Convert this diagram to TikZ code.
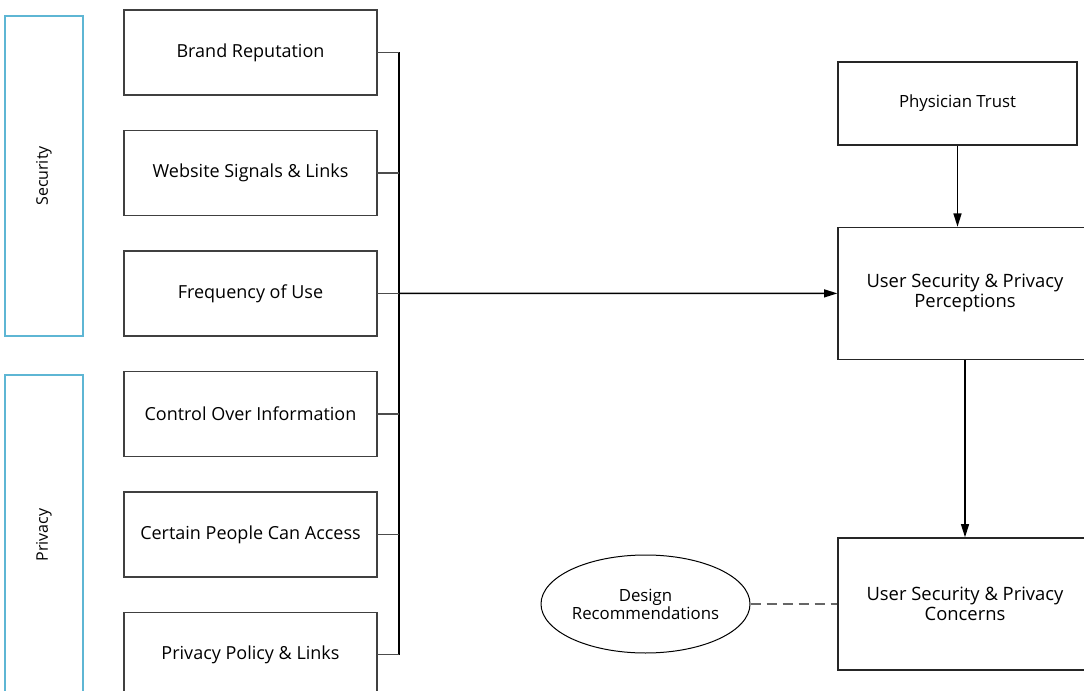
\documentclass[tikz,border=0pt]{standalone}
\usepackage{fontspec}
\setmainfont{Open Sans}
\usetikzlibrary{arrows.meta,positioning,shapes.geometric}
\definecolor{groupcyan}{RGB}{94,182,212}

\tikzset{
  factor/.style={draw=black!75, line width=1pt, inner sep=0pt, outer sep=0pt,
    minimum width=189.75pt, minimum height=63.75pt,
    font=\fontsize{13.5}{15}\selectfont},
  outcome/.style={draw=black!85, line width=1pt, inner sep=0pt, align=center,
    minimum width=190.5pt, minimum height=99pt,
    font=\fontsize{13.8}{15}\selectfont},
  group/.style={draw=groupcyan, line width=0.9pt, rotate=90, inner sep=0pt,
    minimum width=240pt, minimum height=58.5pt,
    font=\fontsize{12}{14}\selectfont},
  stub/.style={draw=black!70, line width=0.9pt},
  bus/.style={draw=black, line width=1.1pt},
  flow/.style={-{Triangle[length=10pt,width=6pt]}, line width=1.1pt}
}

\begin{document}
\begin{tikzpicture}[x=0.75pt,y=-0.75pt,node distance=26.6pt]
    \useasboundingbox (0,0) rectangle (1084,691);

    % groups
    \node[group] (secgrp) at (44,176) {Security};
    \node[group] (privgrp) at (44,535) {Privacy};

    % factors
    \node[factor] (brand) at (250.5,52.5) {Brand Reputation};
    \node[factor] (web) [below=of brand] {Website Signals \& Links};
    \node[factor] (freq) [below=of web] {Frequency of Use};
    \node[factor] (ctrl) [below=of freq] {Control Over Information};
    \node[factor] (people) [below=of ctrl] {Certain People Can Access};
    \node[factor] (policy) [below=of people] {Privacy Policy \& Links};

    % right side
    \node[outcome, minimum width=179.25pt, minimum height=62.25pt,
          font=\fontsize{12.6}{15}\selectfont] (trust) at (957.5,103.5) {Physician Trust};
    \node[outcome] (percep) at (965,293.4) {User Security \& Privacy\\Perceptions};
    \node[outcome] (concern) at (965,604) {User Security \& Privacy\\Concerns};
    \node[ellipse, draw=black, line width=0.75pt, inner sep=0pt,
          minimum width=156.75pt, minimum height=73.5pt, align=center,
          font=\fontsize{12.6}{13.5}\selectfont] (design) at (645.5,604) {Design\\Recommendations};

    % bus
    \coordinate (bustop) at (399,52.5);
    \coordinate (busbot) at (policy.east -| bustop);
    \path[bus] (bustop) -- (busbot);
    \foreach \f in {brand,web,freq,ctrl,people,policy}
        \path[stub] (\f.east) -- (\f.east -| bustop);

    \draw[flow] (freq.east -| bustop) -- (percep.west);
    \draw[flow] (trust.south) -- (trust.south |- percep.north);
    \draw[flow] (percep.south) -- (concern.north);
    \draw[black!60, line width=1pt, dash pattern=on 7.5pt off 4.5pt] (design.east) -- (concern.west);

\end{tikzpicture}
\end{document}
